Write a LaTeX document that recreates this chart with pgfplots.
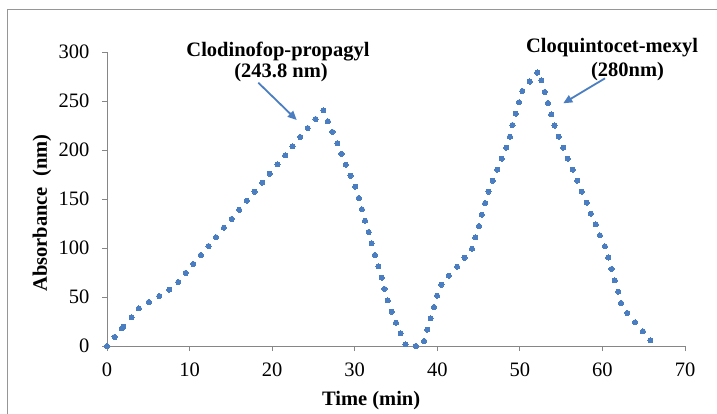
\documentclass[border=0pt]{standalone}
\usepackage{pgfplots}
\pgfplotsset{compat=1.18}
\usepackage{fontspec}
\setmainfont{Liberation Serif}
\usetikzlibrary{arrows.meta}
\definecolor{dotblue}{RGB}{74,126,192}
\definecolor{axgray}{RGB}{134,134,134}
\definecolor{framegray}{RGB}{150,150,150}
\begin{document}
\begin{tikzpicture}[x=1pt,y=1pt]
\useasboundingbox (0,0) rectangle (717,413);
\draw[framegray, line width=1pt] (7.5,-20) -- (7.5,403) -- (740,403);
\begin{axis}[
  at={(107pt,67pt)}, anchor=south west,
  scale only axis, width=578pt, height=294pt,
  xmin=0, xmax=70, ymin=0, ymax=300,
  axis x line=bottom, axis y line=left,
  axis line style={axgray, line width=1pt, -},
  xtick={0,10,...,70}, ytick={0,50,...,300},
  tick style={axgray, line width=1pt},
  tick align=outside, major tick length=5pt,
  /pgf/number format/assume math mode=true,
  ticklabel style={font=\fontsize{20.5}{24}\selectfont},
  xticklabel style={yshift=-8pt},
  yticklabel style={xshift=-9pt},
  xlabel={\textbf{Time (min)}},
  ylabel={\textbf{Absorbance\ \ (nm)}},
  label style={font=\fontsize{20.5}{24}\selectfont},
  xlabel style={at={(axis description cs:0.457,-0.184)}, anchor=center},
  ylabel style={at={(axis description cs:-0.1125,0.452)}, anchor=center},
  clip=false,
]
\addplot[color=dotblue, only marks, mark=*, mark size=2.6pt, mark options={draw=dotblue, fill=dotblue, line width=0pt}] coordinates {
(0,0) (0.92,9.2) (1.8,18) (1.97,19.7) (2.98,29.3) (3.86,38.4) (5.07,44.9)
(6.33,51) (7.54,57.5) (8.63,65.3) (9.52,74.5) (10.44,83.7) (11.37,92.9)
(12.3,102) (13.2,111) (14.16,120.7) (15.09,129.6) (16.0,139) (16.94,148.3)
(17.87,157.5) (18.8,166.7) (19.7,175.8) (20.66,185.4) (21.58,194.6)
(22.47,203.8) (23.4,213.3) (24.3,222.4) (25.26,231.6) (26.2,240.5)
(26.75,229.3) (27.3,218.4) (27.9,207) (28.4,196) (28.93,185) (29.5,173.8)
(30.07,162.6) (30.5,151) (30.87,139.5) (31.25,127.9) (31.7,116.3)
(32.05,104.8) (32.45,92.9) (32.86,81.3) (33.27,69.7) (33.6,58.2) (34.0,46.6)
(34.47,35) (35.0,23.8) (35.56,13) (36.16,1.7) (37.4,0) (38.4,5.1) (38.8,16.7)
(39.2,28.3) (39.6,39.8) (39.97,51.4) (40.5,62.6) (41.4,71.7) (42.4,80.9)
(43.3,90.1) (44.2,99.3) (44.6,110.9) (45.05,122.4) (45.4,134) (45.8,145.9)
(46.2,157.5) (46.7,168.7) (47.26,180) (47.8,191.2) (48.35,202.4) (48.8,213.6)
(49.1,225.5) (49.5,237.1) (49.9,248.7) (50.3,260.2) (51.2,269.8) (52.1,279)
(52.6,271.1) (53.0,259.2) (53.4,248) (53.8,236.4) (54.2,224.9) (54.7,213.6)
(55.26,202.4) (55.8,191.2) (56.4,180) (56.95,168.7) (57.5,157.5) (58.1,146.3)
(58.6,135.1) (59.2,124.2) (59.7,112.9) (60.3,101.7) (60.7,90.4) (61.1,78.6)
(61.5,67) (61.9,55.4) (62.25,43.9) (63.0,33.7) (63.95,24.2) (64.9,15)
(65.8,5.8)
};
\end{axis}
\begin{scope}[font=\fontsize{20.5}{24}\selectfont\bfseries]
\node[anchor=base, inner sep=0] at (278,356.3) {Clodinofop-propagyl};
\node[anchor=base, inner sep=0] at (281,335.3) {(243.8 nm)};
\node[anchor=base, inner sep=0] at (612,360.7) {Cloquintocet-mexyl};
\node[anchor=base, inner sep=0] at (627.5,336.3) {(280nm)};
\end{scope}
\draw[dotblue, line width=1.8pt, -{Triangle[length=9pt,width=8pt]}] (258.3,330.3) -- (296.7,293);
\draw[dotblue, line width=1.8pt, -{Triangle[length=9pt,width=8pt]}] (605,334.7) -- (563.3,309.7);
\end{tikzpicture}
\end{document}
